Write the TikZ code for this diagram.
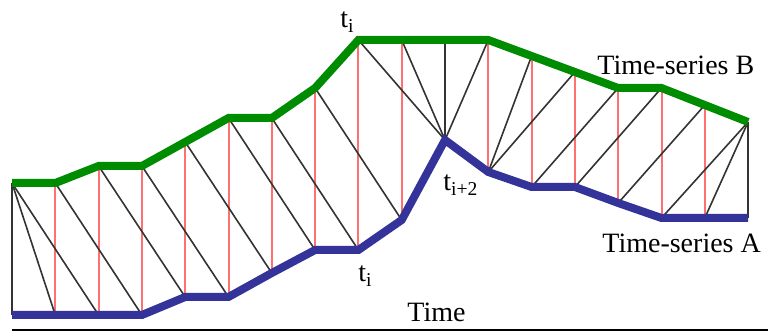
\documentclass[tikz,border=0pt]{standalone}
\usepackage{fontspec}
\setmainfont{Liberation Serif}
\usetikzlibrary{positioning}
\definecolor{serBgreen}{HTML}{008C00}
\definecolor{serAblue}{HTML}{333399}
\definecolor{matchRed}{HTML}{FF7070}
\newcommand{\lblfont}{\fontsize{14}{16}\selectfont}

\begin{document}
\begin{tikzpicture}[x=0.5pt,y=-0.5pt,
    series/.style={line width=4pt},
    match/.style={matchRed,line width=1pt},
    warp/.style={black!80,line width=0.8pt},
    lbl/.style={font=\lblfont,inner sep=0pt}]
  \useasboundingbox (0,0) rectangle (768,331);
  % sample points of both series
  \foreach \v [count=\i from 0] in {315,315,315,315,297,297,273,250,250,220,140,172,187,187,203,218,218,218}
    \coordinate (a\i) at ({12+43.3*\i},\v);
  \foreach \v [count=\i from 0] in {183,183,166,166,142,118,118,88,40,40,40,40,56,72,88,88,105,122}
    \coordinate (b\i) at ({12+43.3*\i},\v);
  % same time index
  \foreach \i in {0,...,17}
    \draw[match] (b\i) -- (a\i);
  % warping path
  \foreach \j/\k in {0/0,0/1,0/2,1/3,2/4,3/5,4/6,5/7,6/8,7/9,8/10,9/10,10/10,11/10,12/11,13/11,14/12,15/13,16/14,17/15,17/16,17/17}
    \draw[warp] (b\j) -- (a\k);
  \draw[series,serAblue] (a0) \foreach \i in {1,...,17}{ -- (a\i)};
  \draw[series,serBgreen] (b0) \foreach \i in {1,...,17}{ -- (b\i)};
  % time axis
  \coordinate (axl) at (12,330);
  \coordinate (axr) at (768,330);
  \draw[line width=1pt] (axl) -- (axr);
  \node[lbl,anchor=base west] (timelbl) at (407,322) {Time};
  \node[lbl,anchor=base west] (serBlbl) at (597,75) {Time-series B};
  \node[lbl,anchor=base west] (serAlbl) at (602,253) {Time-series A};
  \node[lbl,anchor=base west] (tiB) at (340,28) {t\textsubscript{i}};
  \node[lbl,anchor=base west] (tiA) at (358,282) {t\textsubscript{i}};
  \node[lbl,anchor=base west] (tiiA) at (443,191) {t\textsubscript{i+2}};
\end{tikzpicture}
\end{document}
